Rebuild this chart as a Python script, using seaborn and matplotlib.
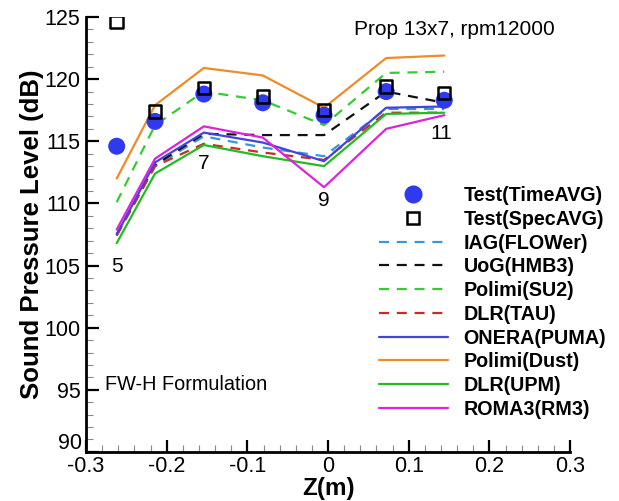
import matplotlib
matplotlib.use("Agg")
import matplotlib.pyplot as plt
import seaborn as sns
import pandas as pd
from matplotlib.lines import Line2D
from matplotlib.ticker import MultipleLocator

# ---- data ----
z = [-0.262, -0.2145, -0.154, -0.081, -0.005, 0.072, 0.144]
time_avg = [114.6, 116.6, 118.8, 118.1, 117.1, 119.0, 118.3]
spec_avg = [124.6, 117.4, 119.3, 118.6, 117.5, 119.4, 118.9]
iag_flower = [107.5, 113.0, 115.4, 114.5, 113.8, 117.6, 117.6]
uog_hmb3 = [107.5, 113.1, 115.6, 115.5, 115.5, 119.0, 118.1]
polimi_su2 = [110.1, 116.3, 119.0, 118.3, 116.3, 120.5, 120.6]
dlr_tau = [107.4, 113.0, 114.8, 114.1, 113.5, 117.3, 117.3]
onera_puma = [107.5, 113.3, 115.7, 114.9, 113.4, 117.7, 117.8]
polimi_dust = [112.0, 117.9, 120.9, 120.3, 117.7, 121.7, 121.9]
dlr_upm = [106.8, 112.4, 114.7, 113.8, 113.0, 117.2, 117.3]
roma3_rm3 = [107.9, 113.6, 116.2, 115.3, 111.3, 116.0, 117.1]

x_ticks = [-0.3, -0.2, -0.1, 0, 0.1, 0.2, 0.3]
x_tick_labels = ["-0.3", "-0.2", "-0.1", "0", "0.1", "0.2", "0.3"]
y_ticks = [90, 95, 100, 105, 110, 115, 120, 125]
y_tick_labels = ["90", "95", "100", "105", "110", "115", "120", "125"]

mic_labels = ["5", "7", "9", "11"]
mic_label_pos = [(-0.262, 104.9), (-0.154, 113.2), (-0.005, 110.2), (0.14, 115.6)]

series = [
    ("IAG(FLOWer)", iag_flower, "#3399dd", True),
    ("UoG(HMB3)", uog_hmb3, "#111111", True),
    ("Polimi(SU2)", polimi_su2, "#33cc33", True),
    ("DLR(TAU)", dlr_tau, "#cc2a2a", True),
    ("ONERA(PUMA)", onera_puma, "#4444dd", False),
    ("Polimi(Dust)", polimi_dust, "#ee8c2a", False),
    ("DLR(UPM)", dlr_upm, "#22bb22", False),
    ("ROMA3(RM3)", roma3_rm3, "#dd22dd", False),
]

sns.set_theme(style="ticks")
plt.rcParams["font.family"] = ["Liberation Sans", "DejaVu Sans"]
plt.rcParams["text.color"] = "black"
plt.rcParams["axes.labelcolor"] = "black"
plt.rcParams["xtick.color"] = "black"
plt.rcParams["ytick.color"] = "black"

fig = plt.figure(figsize=(6.19, 5.01), dpi=100)
ax = fig.add_axes([0.139, 0.098, 0.782, 0.868])

lw = 1.6
dash = (4.5, 3.5)
handles = []
for name, vals, col, dashed in series:
    df = pd.DataFrame({"z": z, "spl": vals})
    sns.lineplot(data=df, x="z", y="spl", ax=ax, color=col, lw=lw,
                 sort=False, legend=False, zorder=2)
    if dashed:
        ax.lines[-1].set_dashes(dash)
    h = Line2D([], [], color=col, lw=lw, linestyle=(0, dash) if dashed else "-")
    handles.append((h, name))

sns.scatterplot(x=z, y=time_avg, ax=ax, color="#2f3af0", s=150, marker="o",
                edgecolor="none", zorder=3, legend=False)
sns.scatterplot(x=z, y=spec_avg, ax=ax, facecolor="none", edgecolor="black",
                s=80, marker="s", linewidth=1.8, zorder=4, legend=False)

h_time = Line2D([], [], color="#2f3af0", marker="o", markersize=12, linestyle="none")
h_spec = Line2D([], [], color="black", marker="s", markersize=9, markerfacecolor="none",
                markeredgewidth=1.8, linestyle="none")
all_h = [h_time, h_spec] + [h for h, _ in handles]
all_l = ["Test(TimeAVG)", "Test(SpecAVG)"] + [n for _, n in handles]
leg = ax.legend(all_h, all_l, loc="upper left", bbox_to_anchor=(0.605, 0.611),
                frameon=False, handlelength=3.5, handletextpad=0.8,
                labelspacing=0.24, borderpad=0.0, borderaxespad=0.0,
                prop={"weight": "bold", "size": 14.2})

for lab, (xx, yy) in zip(mic_labels, mic_label_pos):
    ax.text(xx, yy, lab, ha="center", va="center", fontsize=15)

ax.text(0.157, 124.0, "Prop 13x7, rpm12000", ha="center", va="center", fontsize=15)
ax.text(-0.277, 95.4, "FW-H Formulation", ha="left", va="center", fontsize=14.3)

ax.set_xlim(-0.3, 0.3)
ax.set_ylim(90, 125)
ax.xaxis.set_minor_locator(MultipleLocator(0.02))
ax.yaxis.set_minor_locator(MultipleLocator(1))
ax.set_xticks(x_ticks)
ax.set_xticklabels(x_tick_labels)
ax.set_yticks(y_ticks)
# bottom "90" label is drawn separately, slightly raised as in the reference
ax.set_yticklabels([""] + y_tick_labels[1:])
ax.annotate(y_tick_labels[0], xy=(0, 0), xycoords="axes fraction",
            xytext=(-3, 6), textcoords="offset points",
            ha="right", va="center", fontsize=15.5)
ax.tick_params(which="major", direction="in", length=9, width=1.6, labelsize=15.5)
ax.tick_params(which="minor", direction="in", length=5, width=0.8, color="#888888")
ax.tick_params(axis="x", which="major", pad=3)
ax.tick_params(axis="y", which="major", pad=4)
ax.set_xlabel("Z(m)", fontsize=17.5, fontweight="bold", labelpad=0)
ax.set_ylabel("Sound Pressure Level (dB)", fontsize=18.5, fontweight="bold", labelpad=0)
sns.despine(ax=ax)
for s in ["left", "bottom"]:
    ax.spines[s].set_linewidth(2)
    ax.spines[s].set_color("black")

fig.savefig("out.png", dpi=100)
